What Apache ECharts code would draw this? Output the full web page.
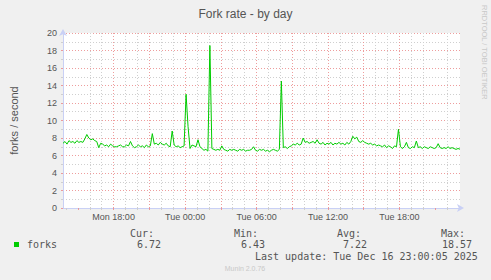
<!DOCTYPE html>
<html>
<head>
<meta charset="utf-8">
<script src="https://cdn.jsdelivr.net/npm/echarts@6/dist/echarts.min.js"></script>
<style>
html,body{margin:0;padding:0;background:#f0f0f0;}
#chart{width:491px;height:280px;}
</style>
</head>
<body>
<div id="chart"></div>
<script>
// x values are minutes since Mon 00:00; samples every 10 minutes from Mon 13:45
const startMinute = 825;
const stepMinutes = 10;
const endMinute = 2825;
const forks = [
  7.4, 7.6, 7.3, 7.7, 7.5, 7.6, 7.4, 7.7, 7.5, 7.6,
  7.5, 7.9, 8.4, 8.0, 7.8, 7.9, 7.7, 7.6, 6.9, 7.4,
  7.3, 7.1, 7.2, 7.0, 7.3, 7.1, 7.0, 7.0, 7.1, 7.2,
  7.0, 7.0, 7.2, 7.1, 7.6, 7.1, 6.9, 7.0, 7.2, 7.0,
  7.1, 6.9, 7.2, 7.0, 7.1, 8.5, 7.3, 7.4, 7.2, 7.5,
  7.3, 7.2, 7.4, 7.1, 7.0, 8.8, 7.2, 7.0, 7.1, 6.9,
  7.0, 7.1, 13.0, 9.3, 6.8, 7.2, 7.1, 7.0, 7.8, 7.0,
  6.8, 6.6, 6.7, 6.5, 18.57, 6.8, 6.7, 6.6, 6.7, 6.6,
  7.1, 6.7, 6.6, 6.5, 6.7, 6.6, 6.7, 6.6, 6.5, 6.7,
  6.6, 6.7, 6.5, 6.6, 6.6, 6.7, 7.0, 6.6, 6.5, 6.7,
  6.6, 6.7, 6.5, 6.6, 6.43, 6.6, 6.7, 6.6, 6.5, 6.7,
  14.5, 6.9, 7.0, 6.8, 7.0, 7.1, 7.3, 7.2, 7.4, 7.2,
  7.3, 8.0, 7.5, 7.6, 7.4, 7.5, 7.6, 7.4, 7.8, 7.4,
  7.3, 7.5, 7.2, 7.4, 7.3, 7.5, 7.2, 7.4, 7.3, 7.5,
  7.3, 7.4, 7.2, 7.5, 7.3, 7.6, 8.2, 7.9, 8.1, 7.6,
  7.5, 7.7, 7.5, 7.4, 7.3, 7.4, 7.2, 7.3, 7.1, 7.2,
  7.1, 7.0, 7.2, 6.9, 7.1, 7.0, 6.8, 7.1, 7.0, 9.0,
  7.0, 6.8, 7.0, 7.5, 6.9, 6.8, 7.0, 6.9, 7.65, 6.9,
  7.0, 6.8, 7.0, 6.9, 6.8, 7.0, 6.9, 6.8, 6.9, 7.35,
  6.9, 6.8, 6.9, 6.8, 7.0, 6.8, 6.9, 6.8, 6.7, 6.8, 6.72
];
const xLabelTicks = [1080, 1440, 1800, 2160, 2520]; // Mon 18:00 ... Tue 18:00
const yTicks = [0, 2, 4, 6, 8, 10, 12, 14, 16, 18, 20];
const legendStats = { cur: '6.72', min: '6.43', avg: '7.22', max: '18.57' };
const lastUpdate = 'Last update: Tue Dec 16 23:00:05 2025';

const hourLines = [], majorLines = [];
for (let m = Math.ceil(startMinute / 60) * 60; m < endMinute; m += 60) {
  if (m % 180 === 0) majorLines.push(m); else hourLines.push(m);
}
const seriesData = forks.map((v, i) => [startMinute + i * stepMinutes, v]);

const FONT = "'Liberation Sans', Arial, sans-serif";
const MONO = "'DejaVu Sans Mono', monospace";
const TXT = '#555555';
const AXIS = '#c9d0f5';
const MGRID = 'rgba(235,140,140,0.85)';
const GRID = '#cfcfcf';

const chart = echarts.init(document.getElementById('chart'), null, { renderer: 'svg' });
chart.setOption({
  animation: false,
  backgroundColor: '#f0f0f0',
  title: {
    text: 'Fork rate - by day', left: 'center', top: 3,
    textStyle: { fontFamily: FONT, fontSize: 12, fontWeight: 'normal', color: TXT }
  },
  grid: { left: 60, top: 33, width: 400, height: 175, show: true, backgroundColor: '#ffffff', borderWidth: 0 },
  xAxis: [
    {
      type: 'value', min: startMinute, max: endMinute, position: 'bottom',
      axisLine: { show: true, lineStyle: { color: AXIS, width: 1 }, symbol: ['none', 'arrow'], symbolSize: [6, 7], symbolOffset: [0, 4] },
      axisTick: { show: true, customValues: hourLines, length: 2, lineStyle: { color: GRID } },
      axisLabel: { show: false },
      splitLine: { show: true, showMinLine: false, showMaxLine: false, lineStyle: { color: GRID, type: [1, 2], width: 1 } }
    },
    {
      type: 'value', min: startMinute, max: endMinute, position: 'bottom',
      axisLine: { show: false },
      axisTick: { show: true, customValues: majorLines, length: 2, lineStyle: { color: MGRID } },
      axisLabel: {
        show: true, customValues: xLabelTicks, margin: 4, fontFamily: FONT, fontSize: 9, color: TXT,
        formatter: v => (v < 1440 ? 'Mon ' : 'Tue ') + String(Math.floor((v % 1440) / 60)).padStart(2, '0') + ':00'
      },
      splitLine: { show: true, showMinLine: false, showMaxLine: false, lineStyle: { color: MGRID, type: [1, 2], width: 1 } }
    }
  ],
  yAxis: {
    type: 'value', min: yTicks[0], max: yTicks[yTicks.length - 1], interval: 2,
    name: 'forks / second', nameLocation: 'middle', nameGap: 44,
    nameTextStyle: { fontFamily: FONT, fontSize: 11, color: TXT },
    axisLine: { show: true, lineStyle: { color: AXIS, width: 1 }, symbol: ['none', 'arrow'], symbolSize: [6, 7], symbolOffset: [0, 4] },
    axisTick: { show: true, length: 2, lineStyle: { color: MGRID } },
    minorTick: { show: true, splitNumber: 2, length: 2, lineStyle: { color: GRID } },
    axisLabel: { margin: 6, fontFamily: FONT, fontSize: 9, color: TXT },
    splitLine: { show: true, showMinLine: false, lineStyle: { color: MGRID, type: [1, 2], width: 1 } },
    minorSplitLine: { show: true, lineStyle: { color: GRID, type: [1, 2], width: 1 } }
  },
  series: [{
    type: 'line', name: 'forks', xAxisIndex: 0, data: seriesData, showSymbol: false, symbol: 'none',
    lineStyle: { color: '#00cc00', width: 1 }, itemStyle: { color: '#00cc00' }, z: 5
  }],
  graphic: [
    { type: 'text', x: 484, y: 5, rotation: -Math.PI / 2,
      style: { text: 'RRDTOOL / TOBI OETIKER', fontFamily: FONT, fontSize: 7.5, fill: '#c8c8c8', align: 'left', verticalAlign: 'middle' } },
    { type: 'rect', shape: { x: 14, y: 242, width: 5, height: 5 }, style: { fill: '#00cc00' } },
    { type: 'text', x: 27, y: 244.5, style: { text: 'forks', fontFamily: MONO, fontSize: 10, fill: TXT, verticalAlign: 'middle' } },
    { type: 'text', x: 130, y: 233, style: { text: 'Cur:', fontFamily: MONO, fontSize: 10, fill: TXT, verticalAlign: 'middle' } },
    { type: 'text', x: 137, y: 244.5, style: { text: legendStats.cur, fontFamily: MONO, fontSize: 10, fill: TXT, verticalAlign: 'middle' } },
    { type: 'text', x: 234, y: 233, style: { text: 'Min:', fontFamily: MONO, fontSize: 10, fill: TXT, verticalAlign: 'middle' } },
    { type: 'text', x: 241, y: 244.5, style: { text: legendStats.min, fontFamily: MONO, fontSize: 10, fill: TXT, verticalAlign: 'middle' } },
    { type: 'text', x: 337, y: 233, style: { text: 'Avg:', fontFamily: MONO, fontSize: 10, fill: TXT, verticalAlign: 'middle' } },
    { type: 'text', x: 343, y: 244.5, style: { text: legendStats.avg, fontFamily: MONO, fontSize: 10, fill: TXT, verticalAlign: 'middle' } },
    { type: 'text', x: 441, y: 233, style: { text: 'Max:', fontFamily: MONO, fontSize: 10, fill: TXT, verticalAlign: 'middle' } },
    { type: 'text', x: 442, y: 244.5, style: { text: legendStats.max, fontFamily: MONO, fontSize: 10, fill: TXT, verticalAlign: 'middle' } },
    { type: 'text', x: 255, y: 256, style: { text: lastUpdate, fontFamily: MONO, fontSize: 10, fill: TXT, verticalAlign: 'middle' } },
    { type: 'text', x: 245, y: 268, style: { text: 'Munin 2.0.76', fontFamily: FONT, fontSize: 7, fill: '#c8c8c8', align: 'center', verticalAlign: 'middle' } }
  ]
});
</script>
</body>
</html>
